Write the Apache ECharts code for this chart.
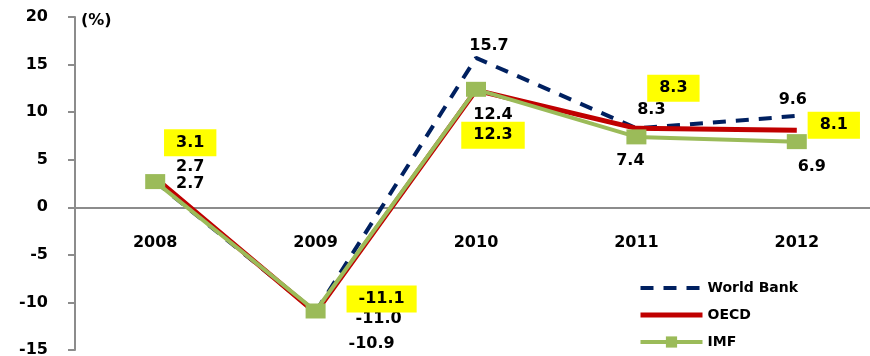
<!DOCTYPE html>
<html lang="en">
<head>
    <meta charset="UTF-8" />
    <title>Growth forecasts</title>
    <script src="https://cdn.jsdelivr.net/npm/echarts@6/dist/echarts.min.js"></script>
    <style>
        * { margin: 0; }
        #chart { width: 870px; height: 356px; background: #fff; }
    </style>
</head>
<body>
    <div id="chart"></div>
    <script>
        const years = ["2008", "2009", "2010", "2011", "2012"];
        const worldBank = [2.7, -11.0, 15.7, 8.3, 9.6];
        const oecd = [3.1, -11.1, 12.3, 8.3, 8.1];
        const imf = [2.7, -10.9, 12.4, 7.4, 6.9];
        const yTicks = { min: -15, max: 20, interval: 5 };

        // where each value label sits, relative to its point
        const wbOffsets = [[35, -15], [63, 7], [13, -12], [15, -18], [-4, -16]];
        const oecdOffsets = [[35, -35], [66, -14], [17, 45], [37, -40], [37, -5]];
        const imfOffsets = [[35, 2], [56, 33], [17, 26], [-6, 24], [15, 25]];

        const font = "DejaVu Sans";
        const gridTop = 17, gridBottom = 6, chartHeight = 356;
        // x axis sits on the zero line, labels included
        const plotHeight = chartHeight - gridTop - gridBottom;
        const zeroLift = plotHeight * (0 - yTicks.min) / (yTicks.max - yTicks.min);

        const labelBase = {
            show: true,
            position: "inside",
            fontFamily: font,
            fontWeight: "bold",
            fontSize: 16,
            color: "#000",
            formatter: (p) => p.value.toFixed(1),
        };

        function withLabels(values, offsets, extra) {
            return values.map((v, i) => ({
                value: v,
                label: Object.assign({}, labelBase, { offset: offsets[i] }, extra || {}),
            }));
        }

        const chart = echarts.init(document.getElementById("chart"));
        chart.setOption({
            animation: false,
            grid: { left: 75, right: -7, top: gridTop, bottom: gridBottom, outerBoundsMode: "none" },
            legend: {
                orient: "vertical",
                left: 638,
                top: 281,
                padding: 0,
                itemWidth: 62,
                itemHeight: 14,
                itemGap: 13,
                textStyle: { fontFamily: font, fontWeight: "bold", fontSize: 14, color: "#000" },
                data: [
                    { name: "World Bank", lineStyle: { width: 4 } },
                    { name: "OECD", lineStyle: { width: 5 } },
                    { name: "IMF", lineStyle: { width: 4 } },
                ],
            },
            xAxis: {
                type: "category",
                data: years,
                offset: -zeroLift,
                axisLine: { onZero: false, lineStyle: { color: "#8c8c8c", width: 2 } },
                axisTick: { length: 6, lineStyle: { color: "#8c8c8c", width: 2 } },
                axisLabel: {
                    margin: 28,
                    fontFamily: font,
                    fontWeight: "bold",
                    fontSize: 16,
                    color: "#000",
                },
            },
            yAxis: {
                type: "value",
                min: yTicks.min,
                max: yTicks.max,
                interval: yTicks.interval,
                name: "(%)",
                nameLocation: "end",
                nameGap: 0,
                nameTextStyle: {
                    align: "left",
                    verticalAlign: "top",
                    padding: [-4, 0, 0, 6],
                    fontFamily: font,
                    fontWeight: "bold",
                    fontSize: 16,
                    color: "#000",
                },
                splitLine: { show: false },
                axisLine: { show: true, lineStyle: { color: "#8c8c8c", width: 2 } },
                axisTick: { show: true, length: 7, lineStyle: { color: "#8c8c8c", width: 2 } },
                axisLabel: {
                    margin: 27,
                    fontFamily: font,
                    fontWeight: "bold",
                    fontSize: 16,
                    color: "#000",
                },
            },
            series: [
                {
                    name: "World Bank",
                    type: "line",
                    data: withLabels(worldBank, wbOffsets),
                    symbol: "circle",
                    symbolSize: 1,
                    itemStyle: { color: "transparent" },
                    lineStyle: { color: "#002060", width: 4, type: [13, 10] },
                    z: 2,
                },
                {
                    name: "OECD",
                    type: "line",
                    data: withLabels(oecd, oecdOffsets, {
                        backgroundColor: "#ffff00",
                        padding: [6, 12, 5, 12],
                    }),
                    symbol: "circle",
                    symbolSize: 1,
                    itemStyle: { color: "transparent" },
                    lineStyle: { color: "#c00000", width: 5 },
                    z: 3,
                },
                {
                    name: "IMF",
                    type: "line",
                    data: withLabels(imf, imfOffsets),
                    symbol: "rect",
                    symbolSize: [20, 15],
                    itemStyle: { color: "#9bbb59" },
                    lineStyle: { color: "#9bbb59", width: 4 },
                    z: 4,
                },
            ],
        });
    </script>
</body>
</html>
